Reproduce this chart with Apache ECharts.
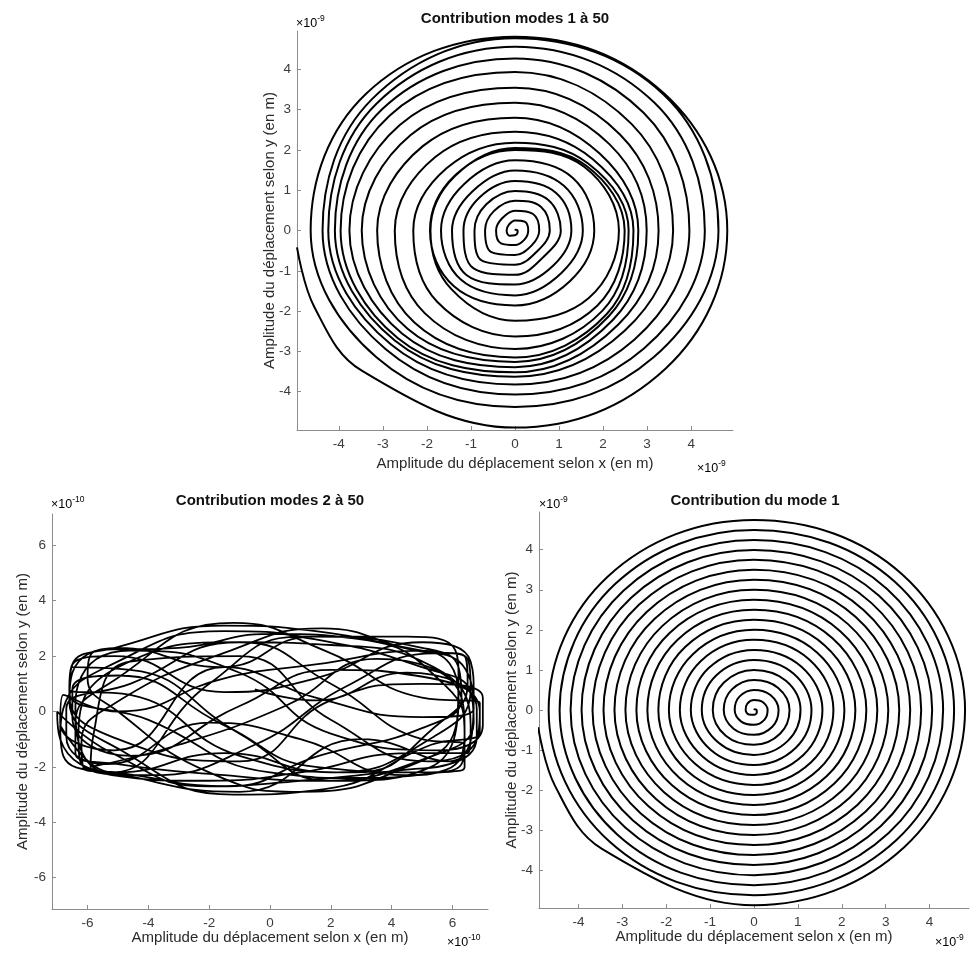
<!DOCTYPE html>
<html><head><meta charset="utf-8">
<script src="https://cdn.jsdelivr.net/npm/echarts@6/dist/echarts.min.js"></script>
<style>html,body{margin:0;padding:0;background:#fff}#c{width:973px;height:956px}</style>
</head><body><div id="c"></div>
<script>
// ---------- data (units: x1e-9 m for modes 1..50 and mode 1, x1e-10 m for modes 2..50) ----------
const ticksTop = [-4, -3, -2, -1, 0, 1, 2, 3, 4];
const ticksMode1 = [-4, -3, -2, -1, 0, 1, 2, 3, 4];
const ticksModes2 = [-6, -4, -2, 0, 2, 4, 6];

// Mode 1: radius read every 45 degrees, clockwise, starting straight up from the centre
const mode1Radius = [0.00,0.03,0.06,0.09,0.12,0.16,0.19,0.22,0.25,0.28,0.31,0.34,0.37,0.41,0.44,0.47,
  0.50,0.53,0.56,0.59,0.62,0.66,0.69,0.72,0.75,0.78,0.81,0.84,0.87,0.91,0.94,0.97,
  1.00,1.03,1.06,1.09,1.12,1.15,1.19,1.22,1.25,1.28,1.31,1.34,1.37,1.40,1.44,1.47,
  1.50,1.53,1.56,1.59,1.62,1.65,1.69,1.72,1.75,1.78,1.81,1.84,1.87,1.90,1.94,1.97,
  2.00,2.03,2.06,2.09,2.12,2.15,2.18,2.22,2.25,2.28,2.31,2.34,2.37,2.40,2.43,2.47,
  2.50,2.53,2.56,2.59,2.62,2.65,2.68,2.72,2.75,2.78,2.81,2.84,2.87,2.90,2.93,2.96,
  3.00,3.03,3.06,3.09,3.12,3.15,3.18,3.21,3.25,3.28,3.31,3.34,3.37,3.40,3.43,3.46,
  3.50,3.53,3.56,3.59,3.62,3.65,3.68,3.71,3.75,3.78,3.81,3.84,3.87,3.90,3.93,3.96,
  3.99,4.03,4.06,4.09,4.12,4.15,4.18,4.21,4.24,4.28,4.31,4.34,4.37,4.40,4.43,4.46,
  4.49,4.53,4.56,4.59,4.62,4.65,4.68,4.71,4.74,4.78,4.81,4.84,4.87,4.90];
const mode1End = [[-4.54, -1.88], [-4.92, -0.43]];

// Modes 1 to 50: radius read every 45 degrees (same directions as mode 1)
const allModesRadius = [0.00,0.03,0.06,0.08,0.12,0.18,0.19,0.20,0.25,0.31,0.30,0.31,0.36,0.45,0.43,0.42,
  0.49,0.58,0.55,0.53,0.61,0.76,0.68,0.68,0.74,0.83,0.79,0.72,0.85,1.06,0.92,0.92,
  0.98,1.07,1.04,0.92,1.10,1.33,1.17,1.15,1.23,1.32,1.28,1.23,1.34,1.56,1.43,1.37,
  1.49,1.57,1.54,1.49,1.61,1.73,1.68,1.63,1.74,1.85,1.80,1.77,1.86,1.96,1.93,1.93,
  2.00,2.23,2.36,2.37,2.24,2.05,1.92,1.92,2.05,2.28,2.49,2.64,2.63,2.50,2.31,2.19,
  2.18,2.35,2.58,2.81,2.94,2.90,2.73,2.57,2.45,2.50,2.69,2.94,3.15,3.23,3.13,2.96,
  2.80,2.71,2.80,3.01,3.26,3.45,3.48,3.35,3.17,3.03,2.99,3.14,3.39,3.62,3.76,3.70,
  3.54,3.37,3.26,3.31,3.52,3.77,3.96,4.03,3.93,3.74,3.59,3.52,3.63,3.86,4.09,4.26,
  4.27,4.13,3.96,3.83,3.82,3.99,4.24,4.45,4.56,4.48,4.31,4.14,4.07,4.16,4.37,4.60,
  4.77,4.77,4.62,4.45,4.38,4.45,4.64,4.79,4.81,4.80,4.82,4.84,4.89,4.92];
const allModesEnd = [[-4.56, -1.89], [-4.95, -0.42]];

// Modes 2 to 50: trajectory points (x1e-10 m)
const modes2to50 = [
  [-6.9,-0.9],[-6.8,0.1],[-5.2,1.7],[-1.5,2.9],[1.5,2.6],[5.0,1.6],[6.6,0.7],[6.7,-0.4],[5.1,-1.7],[1.5,-2.5],[-1.5,-2.3],[-5.0,-1.9],
  [-6.4,-1.5],[-6.4,-0.4],[-5.3,1.0],[-1.2,3.2],[1.8,2.2],[5.0,0.5],[6.9,0.3],[6.9,-0.7],[5.3,-1.2],[1.8,-2.8],[-1.2,-3.0],[-4.9,-1.4],
  [-6.6,0.4],[-6.5,1.4],[-5.0,2.3],[-1.6,1.6],[1.4,2.7],[5.0,2.3],[6.2,1.6],[6.3,0.5],[5.0,-0.6],[1.6,-1.6],[-1.4,-2.7],[-5.1,-2.2],
  [-6.1,-2.1],[-6.2,-1.1],[-5.1,0.3],[-1.3,2.2],[1.7,3.0],[4.8,2.2],[6.4,2.0],[6.5,1.0],[5.6,-0.4],[2.8,-2.2],[-1.0,-1.6],[-4.6,0.6],
  [-6.6,0.8],[-6.5,1.7],[-5.1,2.0],[-1.5,0.7],[1.5,1.2],[5.0,2.5],[6.6,1.8],[6.7,0.6],[5.9,-1.8],[3.0,-1.0],[-1.0,-2.9],[-4.8,-2.3],
  [-6.8,-1.6],[-6.9,-0.5],[-5.2,-2.2],[-2.0,1.0],[1.0,2.7],[4.5,2.7],[6.1,2.2],[6.2,1.2],[5.3,-2.0],[2.0,-2.5],[-1.0,-0.8],[-4.6,1.5],
  [-6.5,1.6],[-6.6,0.6],[-5.0,-1.0],[-1.0,-1.8],[2.0,0.4],[5.0,1.0],[7.0,0.5],[7.0,-0.5],[5.6,-1.4],[2.0,-0.8],[-1.0,1.4],[-4.6,2.2],
  [-6.3,1.0],[-6.4,0.0],[-5.2,-2.3],[-2.0,-2.5],[1.0,-2.2],[4.6,-1.5],[6.5,-1.5],[6.6,-0.5],[5.4,1.6],[2.0,2.4],[-1.0,2.5],[-4.6,1.0],
  [-6.7,0.1],[-6.7,-0.9],[-5.4,-1.9],[-2.0,-0.4],[1.0,-1.0],[4.4,-2.3],[5.8,-2.1],[6.4,-0.8],[6.3,0.5],[3.5,1.9],[0.5,0.2],[-3.0,-1.2],
  [-5.9,-2.0],[-5.8,-0.8],[-4.6,1.8],[-1.0,2.0],[2.0,-0.3],[5.2,-1.8],[6.8,-1.0],[6.9,0.0],[5.3,1.2],[2.0,1.5],[-1.0,0.2],[-4.6,-1.6],
  [-6.5,-0.2],[-6.5,0.8],[-5.0,1.3],[-1.5,-0.5],[1.5,-2.0],[5.0,-2.2],[6.3,-1.9],[6.4,-0.9],[5.8,0.9],[3.0,2.6],[0.0,2.8],[-3.0,2.3],
  [-5.7,2.2],[-6.0,1.2],[-5.0,0.0],[-2.0,-2.2],[1.0,-2.9],[4.5,-2.0],[6.1,-0.6],[6.2,0.6],[5.0,2.2],[1.5,1.7],[-1.5,1.2],[-5.0,0.0],
  [-6.8,0.6],[-6.9,-0.4],[-5.1,-1.4],[-1.5,1.6],[1.5,0.5],[5.0,-0.2],[6.7,0.1],[6.6,1.1],[5.4,2.1],[2.5,0.9],[-0.5,-1.2],[-4.0,-2.3],
  [-6.2,-1.9],[-6.3,-0.8],[-5.0,1.6],[-1.0,2.5],[2.0,1.0],[5.0,-1.0],[6.4,-1.2],[6.4,-2.0],[5.6,-2.2],[3.0,-2.4],[0.0,-2.2],[-4.0,-0.3],
  [-6.6,0.7],[-6.5,1.7],[-5.1,2.3],[-1.5,3.1],[1.5,2.9],[5.0,2.2],[6.5,1.9],[6.6,0.8],[5.4,-0.9],[2.0,-2.2],[-1.5,-1.5],[-5.0,-2.2],
  [-6.9,-1.0],[-7.0,0.0],[-5.2,-1.5],[-2.0,-2.7],[1.0,-2.5],[4.5,-2.1],[5.9,-1.9],[6.8,-0.9],[6.8,0.1],[4.5,1.4],[1.5,0.4],[-0.5,0.8]];

// ---------- build ----------
const S = Math.SQRT1_2;
const dirs = [[0, 1], [S, S], [1, 0], [S, -S], [0, -1], [-S, -S], [-1, 0], [-S, S]];
const toPoints = (radii, end) => radii.map((r, k) => [dirs[k % 8][0] * r, dirs[k % 8][1] * r]).concat(end);
const mode1Points = toPoints(mode1Radius, mode1End);
const allModesPoints = toPoints(allModesRadius, allModesEnd);

const FONT = '"Liberation Sans", Arial, Helvetica, sans-serif';
const AX = '#8c8c8c', LBL = '#3c3c3c';
const XNAME = 'Amplitude du déplacement selon x (en m)';
const YNAME = 'Amplitude du déplacement selon y (en m)';

function xAxis(g, lim, ticks, gap) {
  return {type: 'value', gridIndex: g, min: -lim, max: lim, position: 'bottom',
    name: XNAME, nameLocation: 'middle', nameGap: gap, nameMoveOverlap: false,
    nameTextStyle: {fontFamily: FONT, fontSize: 15, color: '#2a2a2a'},
    axisLine: {show: true, onZero: false, lineStyle: {color: AX, width: 1}},
    axisTick: {show: true, inside: true, length: 4, customValues: ticks, lineStyle: {color: AX}},
    axisLabel: {customValues: ticks, margin: 7, fontFamily: FONT, fontSize: 13.5, color: LBL},
    splitLine: {show: false}};
}
function yAxis(g, lim, ticks, gap) {
  return {type: 'value', gridIndex: g, min: -lim, max: lim, position: 'left',
    name: YNAME, nameLocation: 'middle', nameGap: gap, nameMoveOverlap: false,
    nameTextStyle: {fontFamily: FONT, fontSize: 15, color: '#2a2a2a'},
    axisLine: {show: true, onZero: false, lineStyle: {color: AX, width: 1}},
    axisTick: {show: true, inside: true, length: 4, customValues: ticks, lineStyle: {color: AX}},
    axisLabel: {customValues: ticks, margin: 6, fontFamily: FONT, fontSize: 13.5, color: LBL},
    splitLine: {show: false}};
}
function title(x, y, t) {
  return {type: 'text', x: x, y: y, silent: true,
    style: {text: t, fontFamily: FONT, fontSize: 15, fontWeight: 'bold', fill: '#111', align: 'center', verticalAlign: 'middle'}};
}
function expo(x, y, e) {
  return {type: 'text', x: x, y: y, silent: true,
    style: {text: '{a|×10}{b|' + e + '}', align: 'left', verticalAlign: 'middle',
      rich: {a: {fontFamily: FONT, fontSize: 12.5, color: '#555', lineHeight: 16, verticalAlign: 'bottom'},
             b: {fontFamily: FONT, fontSize: 8.5, color: '#555', lineHeight: 16, verticalAlign: 'top'}}}};
}
function line(i, data, w, sm) {
  return {type: 'line', xAxisIndex: i, yAxisIndex: i, data: data, smooth: sm, symbol: 'none',
    clip: true, lineStyle: {color: '#000', width: w}, silent: true};
}

const chart = echarts.init(document.getElementById('c'), null, {renderer: 'canvas'});
chart.setOption({
  animation: false,
  backgroundColor: '#fff',
  grid: [
    {left: 297, top: 31, width: 436, height: 399},
    {left: 52, top: 514, width: 436, height: 395},
    {left: 539, top: 512, width: 430, height: 396}
  ],
  xAxis: [xAxis(0, 4.95, ticksTop, 26), xAxis(1, 7.17, ticksModes2, 21), xAxis(2, 4.9, ticksMode1, 21)],
  yAxis: [yAxis(0, 4.95, ticksTop, 20), yAxis(1, 7.13, ticksModes2, 22), yAxis(2, 4.94, ticksMode1, 20)],
  series: [
    line(0, allModesPoints, 2, 0.38),
    line(1, modes2to50, 1.8, 0.5),
    line(2, mode1Points, 2, 0.375)
  ],
  graphic: [
    title(515, 19, 'Contribution modes 1 à 50'),
    title(270, 501, 'Contribution modes 2 à 50'),
    title(755, 501, 'Contribution du mode 1'),
    expo(296, 22, '-9'), expo(697, 467, '-9'),
    expo(51, 503, '-10'), expo(447, 941, '-10'),
    expo(539, 503, '-9'), expo(935, 941, '-9')
  ]
});
</script></body></html>
